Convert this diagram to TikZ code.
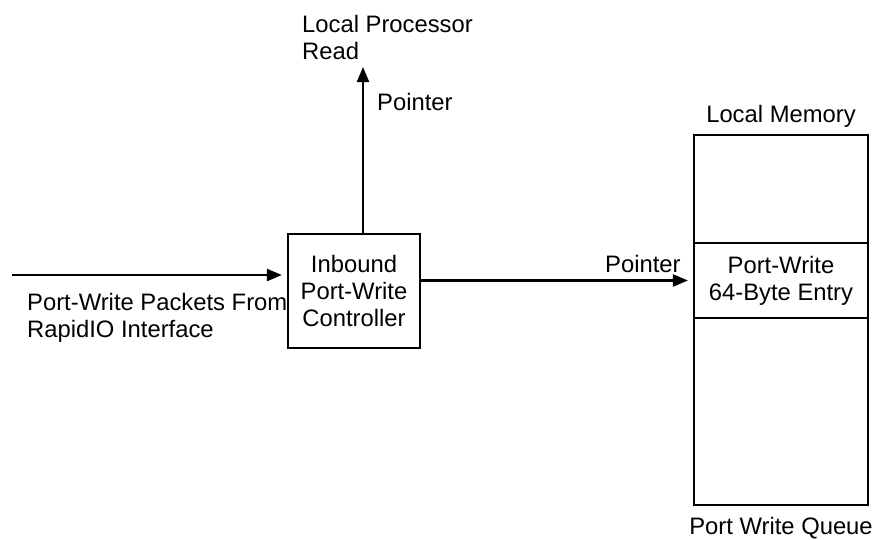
\documentclass[tikz,border=0pt]{standalone}
\usepackage{fontspec}
\setmainfont{Liberation Sans}
\usetikzlibrary{arrows.meta}
\begin{document}
\begin{tikzpicture}[x=1pt,y=-1pt,
  every node/.style={font=\fontsize{23.8}{27}\selectfont, inner sep=0pt},
  box/.style={draw, line width=2.2pt, rectangle, minimum width=#1},
  conn/.style={line width=2.2pt, -{Triangle[length=15pt,width=12pt]}, shorten >=5pt}]
\useasboundingbox (0,0) rectangle (875,539);
% controller
\node[box=132pt, minimum height=114pt, align=center] (ctrl) at (354,291) {Inbound\\Port-Write\\Controller};
% memory cells
\node[box=174pt, minimum height=108pt] (topcell) at (781,189) {};
\node[box=174pt, minimum height=75pt, align=center] (entry) at (781,280.5) {Port-Write\\64-Byte Entry};
\node[box=174pt, minimum height=187pt] (botcell) at (781,411.5) {};
% labels
\node[anchor=north west, align=left] (lpr) at (302,15) {Local Processor\\Read};
\node[anchor=north west] (ptrup) at (377,93) {Pointer};
\node[anchor=north west] (ptrright) at (605,255) {Pointer};
\node[anchor=north] (lmem) at (781,105) {Local Memory};
\node[anchor=north] (pwq) at (781,517) {Port Write Queue};
\node[anchor=north west, align=left] (pkt) at (27,293) {Port-Write Packets From\\RapidIO Interface};
% connectors
\coordinate (in) at (12,275);
\coordinate (up) at (363,67);
\draw[conn] (in) -- (in -| ctrl.west);
\draw[conn, shorten >=0pt] (up |- ctrl.north) -- (up);
\draw[conn] (ctrl.east |- entry.west) -- (entry.west);
\end{tikzpicture}
\end{document}
